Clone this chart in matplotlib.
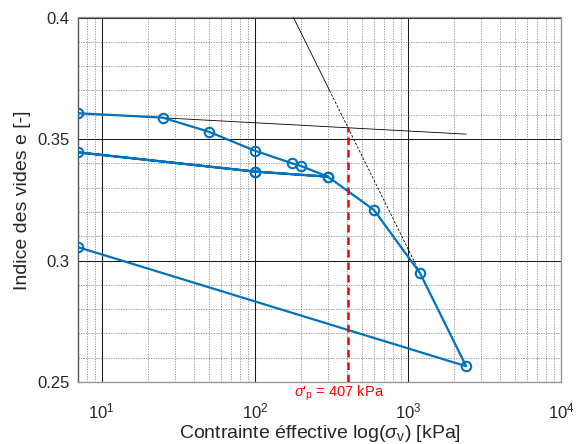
import numpy as np
import matplotlib
matplotlib.use("Agg")
import matplotlib.pyplot as plt
from matplotlib.ticker import FixedLocator, FixedFormatter, LogLocator, NullFormatter
import matplotlib.transforms as mtransforms

plt.rcParams['font.family'] = ['Liberation Sans', 'DejaVu Sans']
plt.rcParams['mathtext.fontset'] = 'custom'
plt.rcParams['mathtext.rm'] = 'Liberation Sans'
plt.rcParams['mathtext.it'] = 'Liberation Sans:italic'
plt.rcParams['mathtext.default'] = 'regular'

# test path: loading, unloading, reloading, final unloading
sigma = [7, 25, 50, 100, 175, 200, 300, 100, 7, 100, 300, 600, 1200, 2400, 7]
e_void = [0.3606, 0.3588, 0.3530, 0.3452, 0.3400, 0.3389, 0.3345, 0.3366, 0.3445,
          0.3366, 0.3345, 0.3208, 0.2948, 0.2565, 0.3055]

# construction lines (Casagrande)
flat_sigma = [7, 2400]
flat_e = [0.3606, 0.3520]
steep_pts_sigma = [1200, 2400]
steep_pts_e = [0.2948, 0.2565]
sigma_p = 407

yticks = [0.25, 0.3, 0.35, 0.4]
ytick_labels = ['0.25', '0.3', '0.35', '0.4']

W, H = 581, 444
fig = plt.figure(figsize=(W/100, H/100), dpi=100)
ax_l, ax_r, ax_t, ax_b = 78, 561, 17.5, 382
ax = fig.add_axes([ax_l/W, 1-ax_b/H, (ax_r-ax_l)/W, (ax_b-ax_t)/H])
ax.set_xscale('log')
ax.set_xlim(7, 1e4)
ax.set_ylim(0.25, 0.4)

blue = '#0072BD'
ax.plot(sigma, e_void, '-o', color=blue, lw=1.6, ms=6.8, mfc='none', mew=1.5, zorder=5)

# flat line
ax.plot(flat_sigma, flat_e, color='black', lw=0.6, zorder=4)

# steep virgin line through last two loading points, extended to top
cc = (steep_pts_e[0] - steep_pts_e[1]) / np.log10(steep_pts_sigma[1] / steep_pts_sigma[0])
def steep_sigma(e):
    return steep_pts_sigma[0] * 10 ** ((steep_pts_e[0] - e) / cc)
e_top, e_mid = 0.4, 0.370
ax.plot([steep_sigma(e_top), steep_sigma(e_mid)], [e_top, e_mid], color='black', lw=0.6, zorder=4)
ax.plot([steep_sigma(e_mid), steep_pts_sigma[1]], [e_mid, steep_pts_e[1]], color='black',
        lw=0.6, ls=(0, (3, 2)), zorder=4)

# intersection e value at sigma_p on flat line
slope = (flat_e[1] - flat_e[0]) / np.log10(flat_sigma[1] / flat_sigma[0])
e_p = flat_e[0] + slope * np.log10(sigma_p / flat_sigma[0])
ax.plot([sigma_p, sigma_p], [0.25, e_p], color='#FF0000', lw=1.8, ls=(0, (3, 2)), zorder=6)

trans = mtransforms.blended_transform_factory(ax.transData, ax.transAxes)
trans = trans + mtransforms.ScaledTranslation(-9.5/100, 0, fig.dpi_scale_trans)
ax.text(sigma_p, -(397 - ax_b)/(ax_b - ax_t), r"$\it{\sigma}$'$_{\rm p}$ = 407 kPa", transform=trans,
        color='#FF0000', fontsize=10.5, ha='center', va='baseline')

# grids
ax.yaxis.set_major_locator(FixedLocator(yticks))
ax.yaxis.set_major_formatter(FixedFormatter(ytick_labels))
ax.yaxis.set_minor_locator(FixedLocator(np.arange(0.25, 0.4001, 0.01)))
ax.xaxis.set_major_locator(LogLocator(base=10, numticks=10))
ax.xaxis.set_minor_locator(LogLocator(base=10, subs=np.arange(2, 10), numticks=20))
ax.xaxis.set_minor_formatter(NullFormatter())
ax.grid(True, which='major', color='#1a1a1a', lw=0.75, ls='-')
ax.grid(True, which='minor', color='#8a8a8a', lw=0.6, ls=(0, (1.5, 1.5)))
ax.set_axisbelow(True)

ax.tick_params(which='both', direction='in', length=0, labelsize=12, colors='#262626')
ax.tick_params(axis='x', pad=14)
ax.tick_params(axis='y', pad=6)
for side in ['top', 'right', 'bottom']:
    ax.spines[side].set_color('#999999')
ax.spines['left'].set_color('#555555')
for s in ax.spines.values():
    s.set_linewidth(1.0)

ax.set_xlabel(r"Contrainte éffective log($\it{\sigma}_{\rm v}$) [kPa]", fontsize=14, color='#262626')
ax.xaxis.label.set_va('baseline')
ax.xaxis.set_label_coords(0.5, -(437.5 - ax_b)/(ax_b - ax_t))
ax.set_ylabel("Indice des vides e [-]", fontsize=14, color='#262626')
ax.yaxis.label.set_va('center')
ax.yaxis.set_label_coords(-(ax_l - 23)/(ax_r - ax_l), 0.5)

fig.savefig('out.png', dpi=100)
